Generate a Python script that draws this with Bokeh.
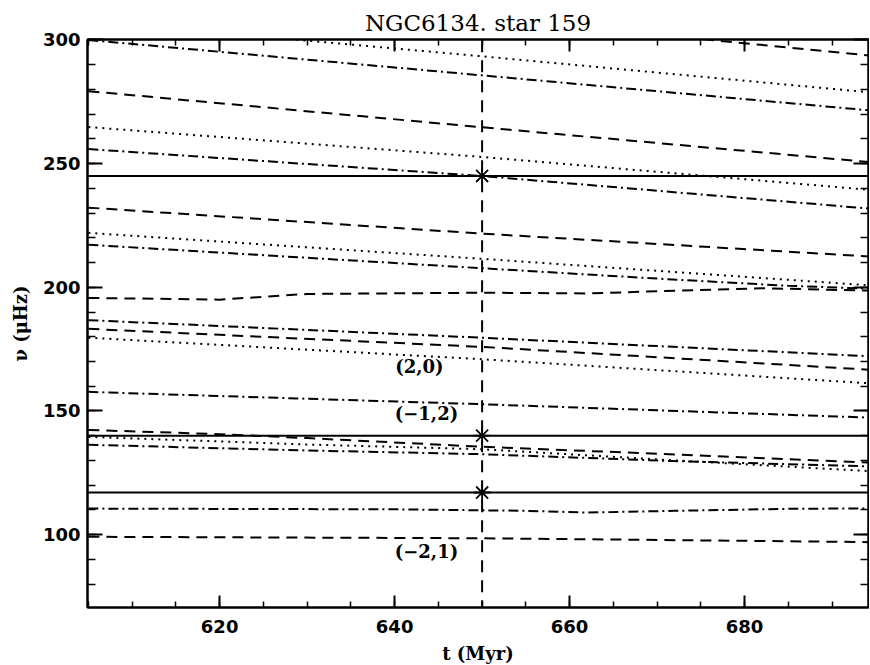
from bokeh.plotting import figure
from bokeh.models import Range1d, LinearAxis, SingleIntervalTicker, Label, ColumnDataSource
from bokeh.embed import file_html
from bokeh.resources import INLINE

# ---------------- data ----------------
t_common = [605, 650, 695]

# dash-dot modes
nu_dd1 = [300.0, 285.7, 271.3]
nu_dd2 = [255.9, 245.0, 231.6]
t_dd3 = [605, 650, 670, 685, 695]
nu_dd3 = [217.2, 207.7, 203.5, 200.6, 199.3]
nu_dd4 = [186.7, 179.6, 172.0]
nu_dd5 = [157.7, 152.7, 147.2]
t_low = [605, 630, 650, 672, 695]
nu_dd6 = [136.3, 134.0, 132.5, 129.7, 127.5]
t_dd7 = [605, 640, 655, 662, 672, 685, 695]
nu_dd7 = [110.5, 110.2, 109.6, 108.9, 109.6, 110.4, 110.6]

# dotted modes
t_dot1 = [620, 650, 695]
nu_dot1 = [302.9, 293.4, 278.6]
nu_dot2 = [264.8, 252.7, 239.2]
nu_dot3 = [222.0, 211.5, 200.6]
nu_dot4 = [179.6, 170.9, 161.0]
nu_dot5 = [139.5, 136.4, 134.5, 130.0, 125.5]

# dashed modes
t_dash1 = [665, 695]
nu_dash1 = [303.9, 293.5]
nu_dash2 = [279.3, 264.7, 250.4]
nu_dash3 = [232.2, 221.7, 212.3]
t_dash4 = [605, 620, 630, 650, 662, 672, 682, 695]
nu_dash4 = [195.7, 195.0, 197.3, 197.8, 197.5, 198.6, 199.6, 198.6]
nu_dash5 = [183.2, 175.9, 166.5]
t_dash6 = [605, 620, 630, 650, 672, 695]
nu_dash6 = [142.3, 140.6, 139.0, 135.5, 132.4, 129.0]
t_dash7 = [605, 650, 685, 695]
nu_dash7 = [99.1, 98.5, 97.3, 96.9]

# observed frequencies (solid) and the age of the model
nu_observed = [245.0, 140.0, 117.0]
t_model = 650

mode_labels = ["(2,0)", "(\u22121,2)", "(\u22122,1)"]

x_ticks_interval = 20
y_ticks_interval = 50

# ---------------- figure ----------------
X0, X1 = 604.9, 694.16
Y0, Y1 = 70.5, 300.2

p = figure(frame_width=781, frame_height=568, output_backend="svg",
           toolbar_location=None, x_range=Range1d(X0, X1), y_range=Range1d(Y0, Y1),
           min_border_left=87, min_border_top=39, min_border_bottom=58,
           min_border_right=1, title="NGC6134. star 159")
p.background_fill_color = "white"
p.border_fill_color = "white"
p.grid.visible = False
p.outline_line_color = "black"
p.outline_line_width = 2

p.title.align = "center"
p.title.text_font = "DejaVu Serif"
p.title.text_font_style = "normal"
p.title.text_font_size = "23px"
p.title.text_color = "black"
p.title.standoff = 8

DASH = "11 7"
DASHDOT = "10 4 2 4"
DOT = "2 5"
LW = 2

series = [
    (t_common, nu_dd1, DASHDOT), (t_common, nu_dd2, DASHDOT), (t_dd3, nu_dd3, DASHDOT),
    (t_common, nu_dd4, DASHDOT), (t_common, nu_dd5, DASHDOT), (t_low, nu_dd6, DASHDOT),
    (t_dd7, nu_dd7, DASHDOT),
    (t_dot1, nu_dot1, DOT), (t_common, nu_dot2, DOT), (t_common, nu_dot3, DOT),
    (t_common, nu_dot4, DOT), (t_low, nu_dot5, DOT),
    (t_dash1, nu_dash1, DASH), (t_common, nu_dash2, DASH), (t_common, nu_dash3, DASH),
    (t_dash4, nu_dash4, DASH), (t_common, nu_dash5, DASH), (t_dash6, nu_dash6, DASH),
    (t_dash7, nu_dash7, DASH),
]
for tt, nn, dash in series:
    p.line(x=tt, y=nn, line_color="black", line_width=LW, line_dash=dash)

for nu in nu_observed:
    p.line(x=[X0 - 5, X1 + 5], y=[nu, nu], line_color="black", line_width=2)

p.line(x=[t_model, t_model], y=[Y0 - 10, Y1 + 10], line_color="black",
       line_width=2, line_dash="12 8")

src_obs = ColumnDataSource(dict(t=[t_model] * len(nu_observed), nu=nu_observed))
p.scatter(x="t", y="nu", source=src_obs, marker="asterisk", size=17,
          line_color="black", line_width=1.8)

# ---------------- axes ----------------
def style_axis(ax, major_in, minor_in, show_labels):
    ax.axis_line_color = "black"
    ax.axis_line_width = 2
    ax.major_tick_line_width = 2
    ax.minor_tick_line_width = 1.5
    ax.major_tick_in = major_in
    ax.major_tick_out = 0
    ax.minor_tick_in = minor_in
    ax.minor_tick_out = 0
    if show_labels:
        ax.major_label_text_font = "DejaVu Sans"
        ax.major_label_text_font_style = "bold"
        ax.major_label_text_font_size = "18px"
        ax.major_label_text_color = "black"
        ax.axis_label_text_font = "DejaVu Serif"
        ax.axis_label_text_font_style = "bold"
        ax.axis_label_text_font_size = "18px"
        ax.axis_label_text_color = "black"
    else:
        ax.major_label_text_font_size = "0px"
        ax.major_label_standoff = 0
        ax.major_label_text_color = None

p.xaxis.ticker = SingleIntervalTicker(interval=x_ticks_interval, num_minor_ticks=4)
p.yaxis.ticker = SingleIntervalTicker(interval=y_ticks_interval, num_minor_ticks=5)
style_axis(p.xaxis[0], 12, 6, True)
style_axis(p.yaxis[0], 15, 8, True)
p.xaxis[0].major_label_standoff = 12
p.yaxis[0].major_label_standoff = 7
p.xaxis[0].axis_label = "t (Myr)"
p.xaxis[0].axis_label_standoff = 7
p.yaxis[0].axis_label = "\u03bd (\u03bcHz)"
p.yaxis[0].axis_label_standoff = 9

top = LinearAxis(ticker=SingleIntervalTicker(interval=x_ticks_interval, num_minor_ticks=4))
style_axis(top, 12, 6, False)
p.add_layout(top, "above")
right = LinearAxis(ticker=SingleIntervalTicker(interval=y_ticks_interval, num_minor_ticks=5))
style_axis(right, 15, 8, False)
p.add_layout(right, "right")

# ---------------- mode labels ----------------
def lab(x, y, text):
    p.add_layout(Label(x=x, y=y, text=text, text_font="DejaVu Serif", text_font_size="18px",
                       text_font_style="bold", text_align="center", text_baseline="middle",
                       text_color="black"))

lab(642.84, 167.95, mode_labels[0])
lab(643.64, 148.95, mode_labels[1])
lab(643.64, 93.15, mode_labels[2])

open("out.html", "w").write(file_html(p, INLINE))
